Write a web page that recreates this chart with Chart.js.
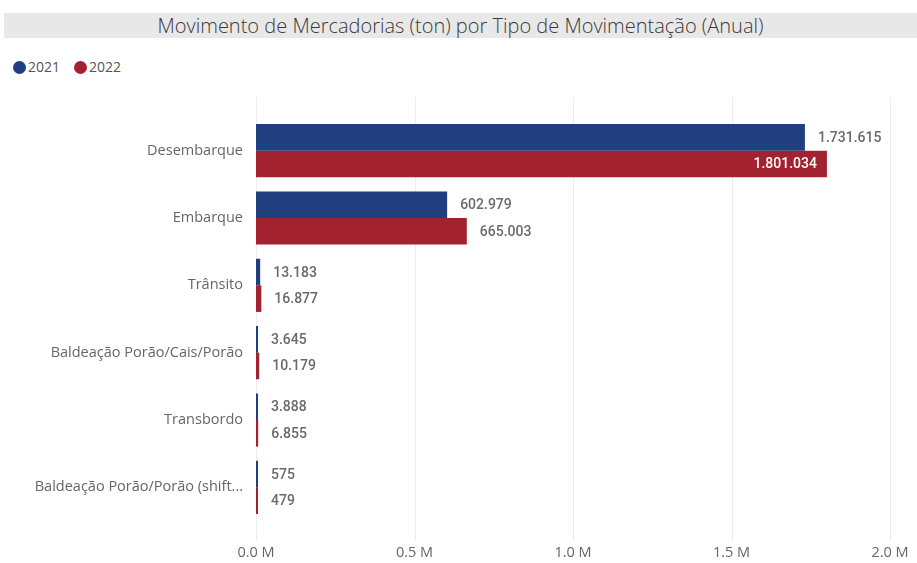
<!DOCTYPE html>
<html>
<head>
<meta charset="utf-8">
<script src="https://cdn.jsdelivr.net/npm/chart.js@4"></script>
<style>
  body { margin: 0; background: #fff; font-family: "Open Sans", sans-serif; }
  #wrap { position: relative; width: 917px; height: 563px; }
  #title {
    position: absolute; left: 4px; top: 13px; width: 913px; height: 25px;
    background: #e8e8e8; color: #3a3a3a; font-size: 20px; line-height: 25px;
    text-align: center; font-weight: 300;
  }
  #legend { position: absolute; left: 13px; top: 57px; font-size: 14px; color: #555; }
  #legend span { display: inline-block; margin-right: 14px; }
  #legend i {
    display: inline-block; width: 13px; height: 13px; border-radius: 50%;
    vertical-align: -2px; margin-right: 2px;
  }
  canvas { position: absolute; left: 0; top: 0; }
</style>
</head>
<body>
<div id="wrap">
  <div id="title">Movimento de Mercadorias (ton) por Tipo de Movimentação (Anual)</div>
  <div id="legend"></div>
  <canvas id="chart" width="917" height="563"></canvas>
</div>
<script>
const categories = [
  'Desembarque',
  'Embarque',
  'Trânsito',
  'Baldeação Porão/Cais/Porão',
  'Transbordo',
  'Baldeação Porão/Porão (shifting)'
];
const years = ['2021', '2022'];
const values2021 = [1731615, 602979, 13183, 3645, 3888, 575];
const values2022 = [1801034, 665003, 16877, 10179, 6855, 479];
const xTicks = [0, 500000, 1000000, 1500000, 2000000];
const colors = ['#213f7e', '#a32230'];

document.getElementById('legend').innerHTML = years
  .map((y, i) => `<span><i style="background:${colors[i]}"></i>${y}</span>`)
  .join('');

// 1731615 -> "1.731.615"
function fmt(n) {
  return String(n).replace(/\B(?=(\d{3})+(?!\d))/g, '.');
}

// value labels at the end of each bar (inside when there's no room)
const barLabels = {
  id: 'barLabels',
  afterDatasetsDraw(chart) {
    const ctx = chart.ctx;
    const area = chart.chartArea;
    ctx.save();
    ctx.font = '500 14px Roboto, sans-serif';
    ctx.textBaseline = 'middle';
    chart.data.datasets.forEach((ds, di) => {
      chart.getDatasetMeta(di).data.forEach((bar, i) => {
        const txt = fmt(ds.data[i]);
        const w = ctx.measureText(txt).width;
        if (bar.x + 13 + w > area.right) {
          ctx.fillStyle = '#fff';
          ctx.textAlign = 'right';
          ctx.fillText(txt, bar.x - 10, bar.y + 1);
        } else {
          ctx.fillStyle = '#6a6a6a';
          ctx.textAlign = 'left';
          ctx.fillText(txt, bar.x + 13, bar.y + 1);
        }
      });
    });
    ctx.restore();
  }
};

// vertical gridlines reach a bit above and below the bars
const gridLines = {
  id: 'gridLines',
  beforeDatasetsDraw(chart) {
    const ctx = chart.ctx;
    const area = chart.chartArea;
    const x = chart.scales.x;
    ctx.save();
    ctx.strokeStyle = '#ececec';
    ctx.lineWidth = 1;
    x.ticks.forEach(t => {
      const px = Math.round(x.getPixelForValue(t.value)) + 0.5;
      ctx.beginPath();
      ctx.moveTo(px, area.top - 20);
      ctx.lineTo(px, area.bottom + 20);
      ctx.stroke();
    });
    ctx.restore();
  }
};

new Chart(document.getElementById('chart'), {
  type: 'bar',
  data: {
    labels: categories,
    datasets: [
      { label: years[0], data: values2021, backgroundColor: colors[0] },
      { label: years[1], data: values2022, backgroundColor: colors[1] }
    ]
  },
  options: {
    indexAxis: 'y',
    responsive: false,
    animation: false,
    layout: { padding: { top: 117, right: 27, left: 0, bottom: 0 } },
    datasets: { bar: { categoryPercentage: 0.79, barPercentage: 1, minBarLength: 2 } },
    plugins: {
      legend: { display: false },
      tooltip: { enabled: false }
    },
    scales: {
      x: {
        min: 0,
        max: 2000000,
        afterBuildTicks: s => { s.ticks = xTicks.map(v => ({ value: v })); },
        afterFit: s => { s.height = 42; s.paddingLeft = 0; s.paddingRight = 0; },
        grid: { display: false },
        border: { display: false },
        ticks: {
          padding: 15,
          color: '#666',
          font: { family: 'Open Sans', size: 14.5 },
          callback: v => (v / 1000000).toFixed(1) + ' M'
        }
      },
      y: {
        afterFit: s => { s.width = 256; },
        grid: { display: false, drawTicks: false },
        border: { display: false },
        ticks: {
          padding: 13,
          color: '#666',
          font: { family: 'Open Sans', size: 14.5 },
          callback: function (v) {
            const l = this.getLabelForValue(v);
            return l.length > 30 ? l.slice(0, 28) + '...' : l;
          }
        }
      }
    }
  },
  plugins: [gridLines, barLabels]
});
</script>
</body>
</html>
